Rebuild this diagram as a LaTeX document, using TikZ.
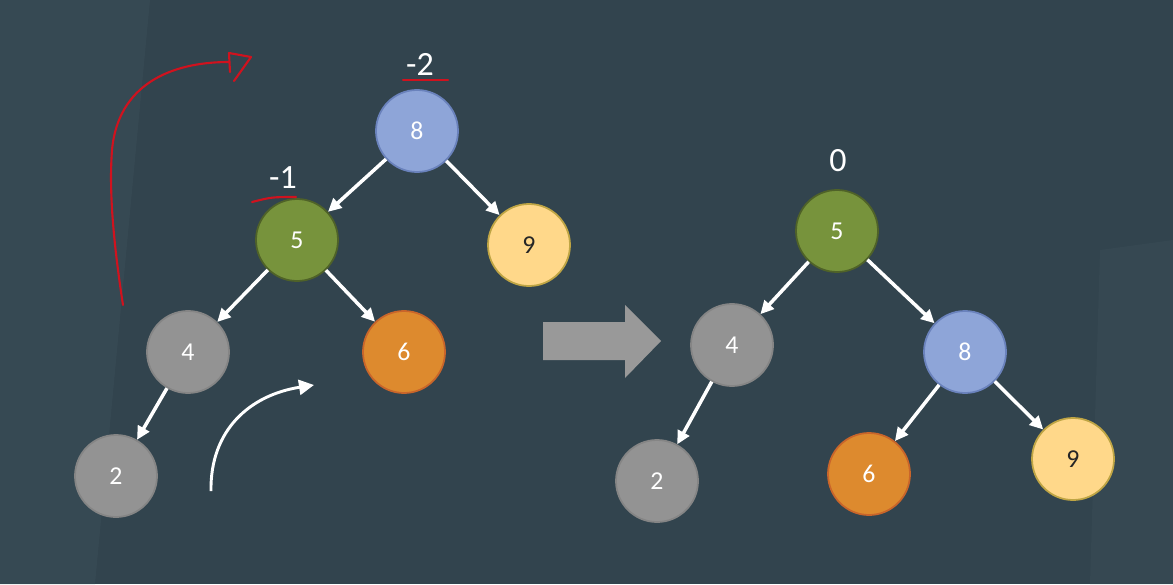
\documentclass[tikz,border=0pt]{standalone}
\usepackage{fontspec}
\setmainfont{Carlito}
\usetikzlibrary{arrows.meta,positioning}

\definecolor{bgslate}{HTML}{32444E}
\definecolor{bgpanel}{HTML}{3A4D57}
\definecolor{nodeblue}{HTML}{8EA5D8}
\definecolor{edgeblue}{HTML}{6A82BC}
\definecolor{nodegreen}{HTML}{77933C}
\definecolor{edgegreen}{HTML}{4F6228}
\definecolor{nodeyellow}{HTML}{FFD88A}
\definecolor{edgeyellow}{HTML}{BFA544}
\definecolor{nodegray}{HTML}{939393}
\definecolor{edgegray}{HTML}{858585}
\definecolor{nodeorange}{HTML}{DD8A2E}
\definecolor{edgeorange}{HTML}{C9652A}
\definecolor{inkred}{HTML}{D0121E}
\definecolor{bigarrow}{HTML}{999999}

\begin{document}
\begin{tikzpicture}[
    x=0.03cm,
    y=-0.03cm,
    key/.style={circle, line width=1.5pt, minimum size=2.46cm, inner sep=0pt, text=white, font=\fontsize{22}{24}\selectfont},
    kblue/.style={key, fill=nodeblue, draw=edgeblue},
    kgreen/.style={key, fill=nodegreen, draw=edgegreen},
    kyellow/.style={key, fill=nodeyellow, draw=edgeyellow, text=black!85},
    kgray/.style={key, fill=nodegray, draw=edgegray},
    korange/.style={key, fill=nodeorange, draw=edgeorange},
    balance/.style={text=white, font=\fontsize{29}{32}\selectfont},
    link/.style={-{Triangle[length=4mm, width=3.8mm]}, white, line width=3pt},
    redink/.style={inkred, line width=1.8pt, line cap=round, line join=round}
]
% background
\fill[bgslate] (0,0) rectangle (1173,584);
\fill[bgpanel, opacity=0.6] (0,0) -- (150,0) -- (95,584) -- (0,584) -- cycle;
\fill[bgpanel, opacity=0.5] (1100,250) -- (1173,240) -- (1173,584) -- (1090,584) -- cycle;

% left tree (before rotation)
\node[kblue] (l8) at (417,131) {8};
\node[kgreen] (l5) at (297,240) {5};
\node[kyellow] (l9) at (529,245) {9};
\node[kgray] (l4) at (188,352) {4};
\node[korange] (l6) at (404,352) {6};
\node[kgray] (l2) at (116,476) {2};

\node[balance] (bf8) at (420,64) {-2};
\node[balance] (bf5) at (283,178) {-1};

\draw[link] (l8) -- (l5);
\draw[link] (l8) -- (l9);
\draw[link] (l5) -- (l4);
\draw[link] (l5) -- (l6);
\draw[link] (l4) -- (l2);

% red annotations
\coordinate (ul2a) at (403,80);
\coordinate (ul2b) at (448,80);
\coordinate (ul1a) at (252,202);
\coordinate (ul1b) at (296,197);
\draw[redink] (ul2a) -- (ul2b);
\draw[redink] (ul1a) .. controls (272,197) .. (ul1b);
\coordinate (rotfoot) at (123,305);
\coordinate (rottip) at (229,62);
\draw[redink] (rotfoot) .. controls (113,240) and (109,190) .. (112,150)
    .. controls (118,85) and (170,62) .. (rottip);
\draw[redink] (230,72) -- (229,53) -- (251,57) -- (234,81);

% white rotation hint
\coordinate (turnfoot) at (211,491);
\coordinate (turnhead) at (314,385);
\draw[-{Triangle[length=4.5mm, width=4.5mm]}, white, line width=2.5pt]
    (turnfoot) .. controls (210,430) and (250,395) .. (turnhead);

% big transition arrow
\fill[bigarrow] (543,322) -- (625,322) -- (625,305) -- (661,341) -- (625,378)
    -- (625,360) -- (543,360) -- cycle;

% right tree (after rotation)
\node[kgreen] (r5) at (837,231) {5};
\node[kgray] (r4) at (732,345) {4};
\node[kblue] (r8) at (965,352) {8};
\node[kgray] (r2) at (657,481) {2};
\node[korange] (r6) at (869,474) {6};
\node[kyellow] (r9) at (1073,459) {9};

\node[balance] (bf0) at (838,161) {0};

\draw[link] (r5) -- (r4);
\draw[link] (r5) -- (r8);
\draw[link] (r4) -- (r2);
\draw[link] (r8) -- (r6);
\draw[link] (r8) -- (r9);
\end{tikzpicture}
\end{document}
